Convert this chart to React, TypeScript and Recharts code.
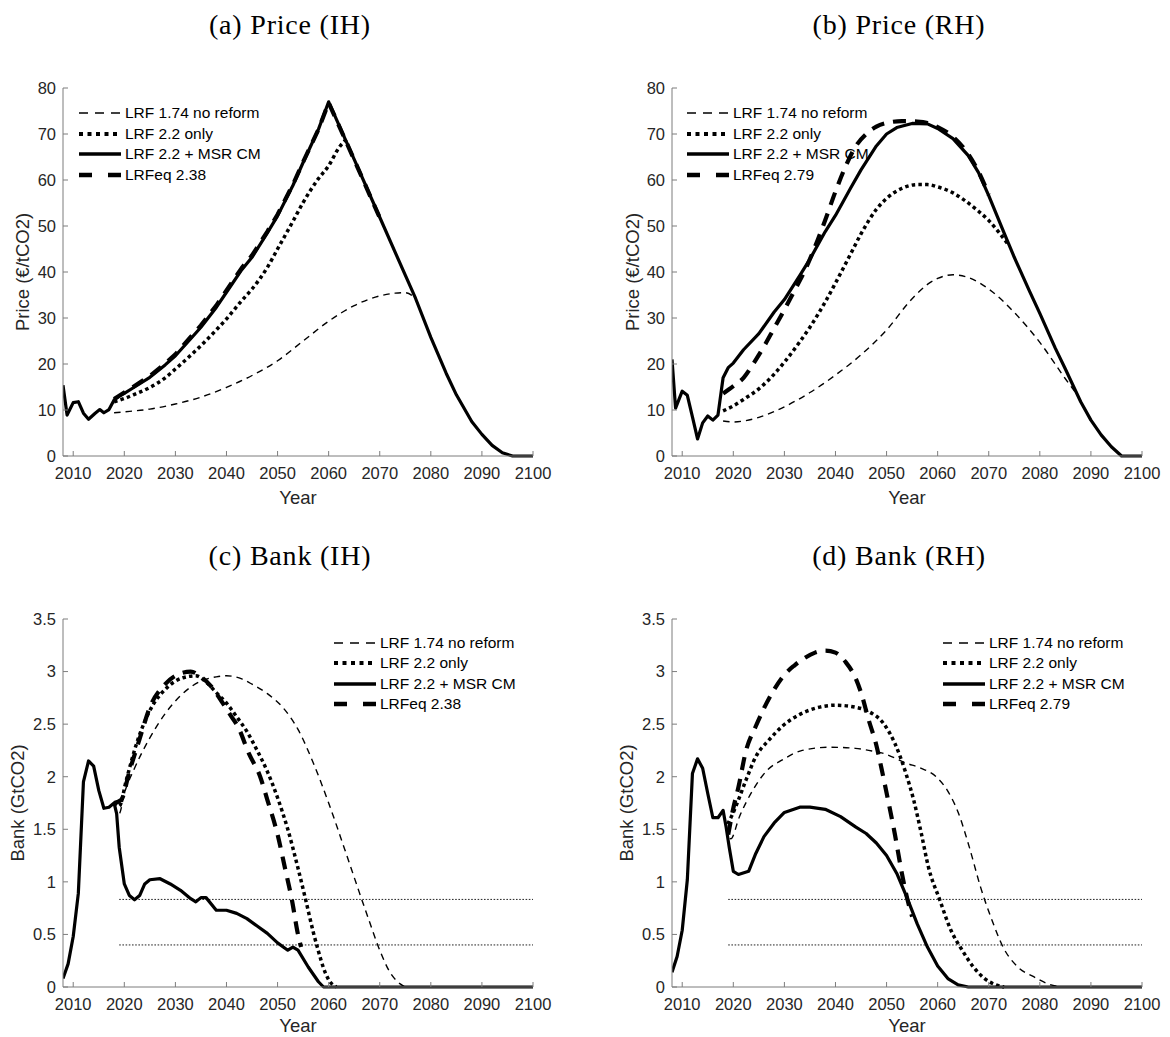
import React from 'react'
import { LineChart, Line, XAxis, YAxis, ReferenceLine, Legend, Label } from 'recharts'

type Pt = [number, number]

const yearTicks = [2010, 2020, 2030, 2040, 2050, 2060, 2070, 2080, 2090, 2100]
const priceTicks = [0, 10, 20, 30, 40, 50, 60, 70, 80]
const bankTicks = [0, 0.5, 1, 1.5, 2, 2.5, 3, 3.5]
const msrThresholds = [0.833, 0.4]
const msrFrom = 2019

const namesIH = ['LRF 1.74 no reform', 'LRF 2.2 only', 'LRF 2.2 + MSR CM', 'LRFeq 2.38']
const namesRH = ['LRF 1.74 no reform', 'LRF 2.2 only', 'LRF 2.2 + MSR CM', 'LRFeq 2.79']

// (a) Price (IH)
const priceIH_noReform: Pt[] = [
  [2018, 9.4], [2020, 9.6], [2025, 10.2], [2030, 11.3], [2035, 12.8], [2040, 14.9], [2045, 17.5],
  [2050, 20.7], [2055, 25.0], [2060, 29.3], [2065, 32.7], [2070, 34.8], [2073, 35.4], [2075, 35.5], [2077, 34.3],
]
const priceIH_only: Pt[] = [
  [2018, 11.8], [2020, 12.5], [2022, 13.4], [2025, 14.9], [2028, 17.0], [2030, 18.9], [2033, 21.9],
  [2035, 24.0], [2038, 27.4], [2040, 29.8], [2043, 33.8], [2045, 36.3], [2048, 41.0], [2050, 45.0],
  [2053, 51.0], [2055, 55.1], [2058, 60.3], [2060, 63.1], [2062, 67.0], [2063.6, 69.0],
]
const priceIH_msr: Pt[] = [
  [2008, 15.4], [2008.8, 8.9], [2010, 11.6], [2011, 11.8], [2012, 9.3], [2013, 8.0], [2014.3, 9.3],
  [2015.2, 10.1], [2016, 9.4], [2017, 10.1], [2018, 12.2], [2019, 13.0], [2020, 13.6], [2022, 15.0],
  [2025, 17.1], [2028, 19.8], [2030, 21.8], [2033, 25.5], [2035, 28.0], [2038, 32.3], [2040, 35.6],
  [2043, 40.5], [2045, 43.2], [2048, 48.5], [2050, 52.2], [2053, 58.8], [2055, 63.8], [2058, 71.0],
  [2060, 77.0], [2065, 64.5], [2070, 51.9], [2075, 39.3], [2077, 34.3], [2080, 25.8], [2083, 18.0],
  [2085, 13.3], [2088, 7.5], [2090, 4.7], [2092, 2.3], [2094, 0.7], [2096, 0], [2100, 0],
]
const priceIH_eq: Pt[] = [
  [2018, 12.4], [2020, 13.8], [2022, 15.2], [2025, 17.4], [2028, 20.1], [2030, 22.1], [2033, 25.9],
  [2035, 28.4], [2038, 32.7], [2040, 36.0], [2043, 40.9], [2045, 43.6], [2048, 48.8], [2050, 52.5],
  [2053, 59.0], [2055, 63.9], [2058, 71.0], [2060, 76.8], [2065, 64.4], [2070, 51.8],
]

// (b) Price (RH)
const priceRH_noReform: Pt[] = [
  [2018, 7.6], [2020, 7.4], [2022, 7.6], [2025, 8.4], [2030, 10.7], [2035, 13.8], [2040, 17.6],
  [2045, 22.0], [2050, 27.4], [2055, 34.2], [2058, 37.3], [2060, 38.6], [2063, 39.4], [2066, 38.8],
  [2070, 36.3], [2075, 31.2], [2080, 24.7], [2085, 16.8], [2087, 13.8],
]
const priceRH_only: Pt[] = [
  [2018, 9.8], [2020, 10.9], [2022, 12.3], [2025, 14.6], [2028, 17.8], [2030, 20.4], [2033, 24.8],
  [2035, 28.0], [2038, 33.5], [2040, 37.6], [2043, 44.0], [2045, 48.3], [2048, 53.6], [2050, 56.0],
  [2053, 58.2], [2056, 59.0], [2058, 59.0], [2060, 58.5], [2063, 57.2], [2065, 55.8], [2068, 53.2],
  [2070, 51.2], [2072, 48.6], [2074, 45.7],
]
const priceRH_msr: Pt[] = [
  [2008, 21.0], [2008.7, 10.4], [2010, 14.1], [2011, 13.2], [2012, 8.5], [2013, 3.7], [2014, 7.2],
  [2015, 8.7], [2016, 7.8], [2017, 8.9], [2018, 17.0], [2019, 19.2], [2020, 20.2], [2022, 23.1],
  [2025, 26.6], [2028, 31.3], [2030, 34.0], [2033, 39.2], [2035, 42.8], [2038, 48.8], [2040, 52.3],
  [2043, 58.3], [2045, 62.2], [2048, 67.4], [2050, 70.0], [2052, 71.4], [2055, 72.3], [2058, 72.2],
  [2060, 71.2], [2063, 69.0], [2066, 65.3], [2068, 61.6], [2070, 56.6], [2073, 48.5], [2075, 43.2],
  [2078, 35.8], [2080, 31.0], [2083, 23.5], [2085, 18.9], [2088, 11.8], [2090, 7.8], [2092, 4.6],
  [2094, 2.0], [2096, 0], [2100, 0],
]
const priceRH_eq: Pt[] = [
  [2018, 13.6], [2020, 15.2], [2022, 17.0], [2024, 20.2], [2026, 23.8], [2028, 27.8], [2030, 31.8],
  [2032, 36.0], [2034, 40.3], [2036, 45.5], [2038, 51.3], [2040, 57.5], [2042, 63.0], [2044, 67.4],
  [2046, 70.0], [2048, 71.6], [2050, 72.4], [2053, 72.8], [2056, 72.7], [2058, 72.4], [2060, 71.5],
  [2063, 69.4], [2066, 65.6], [2068, 61.8], [2070, 56.8],
]

// (c) Bank (IH)
const bankIH_noReform: Pt[] = [
  [2018, 1.74], [2019, 1.65], [2020, 1.84], [2022, 2.08], [2025, 2.37], [2028, 2.6], [2031, 2.77],
  [2035, 2.91], [2038, 2.95], [2040, 2.96], [2043, 2.93], [2045, 2.88], [2048, 2.79], [2051, 2.66],
  [2054, 2.45], [2057, 2.13], [2060, 1.75], [2063, 1.33], [2066, 0.9], [2068, 0.62], [2070, 0.35],
  [2072, 0.14], [2074, 0.03], [2075, 0],
]
const bankIH_only: Pt[] = [
  [2018, 1.75], [2019, 1.72], [2020.4, 1.97], [2022.3, 2.3], [2024.9, 2.62], [2028.2, 2.84],
  [2031.4, 2.94], [2034, 2.96], [2036, 2.9], [2038, 2.8], [2040, 2.7], [2042, 2.57], [2044, 2.43],
  [2046, 2.25], [2048, 2.05], [2050, 1.8], [2052, 1.5], [2054, 1.13], [2055.5, 0.83], [2057, 0.52],
  [2058, 0.34], [2059, 0.18], [2060, 0.07], [2061.5, 0],
]
const bankIH_msr: Pt[] = [
  [2008, 0.08], [2009, 0.22], [2010, 0.48], [2011, 0.89], [2012, 1.95], [2013, 2.15], [2014, 2.1],
  [2015, 1.87], [2016, 1.7], [2017, 1.71], [2018, 1.75], [2018.5, 1.65], [2019, 1.33], [2020, 0.98],
  [2021, 0.87], [2022, 0.83], [2023, 0.87], [2024, 0.98], [2025, 1.02], [2027, 1.03], [2029, 0.98],
  [2031, 0.92], [2033, 0.84], [2034, 0.81], [2035, 0.85], [2036, 0.85], [2038, 0.73], [2040, 0.73],
  [2042, 0.7], [2044, 0.65], [2046, 0.58], [2048, 0.51], [2050, 0.42], [2052, 0.35], [2053, 0.38],
  [2054, 0.35], [2056, 0.19], [2058, 0.05], [2059, 0], [2100, 0],
]
const bankIH_eq: Pt[] = [
  [2018, 1.75], [2019.4, 1.78], [2021, 2.05], [2023, 2.36], [2025, 2.66], [2028, 2.88], [2030, 2.96],
  [2033, 3.0], [2035, 2.95], [2037, 2.86], [2039, 2.72], [2041, 2.57], [2042.2, 2.48], [2044.4, 2.22],
  [2046.6, 2.0], [2048, 1.78], [2050, 1.45], [2051.5, 1.12], [2052.8, 0.83], [2054, 0.5], [2054.6, 0.38],
]

// (d) Bank (RH)
const bankRH_noReform: Pt[] = [
  [2018.6, 1.52], [2019.5, 1.41], [2021.2, 1.62], [2023.8, 1.87], [2026.4, 2.05], [2029.6, 2.16],
  [2033.5, 2.25], [2038.7, 2.28], [2043.9, 2.27], [2046.5, 2.25], [2049.5, 2.22], [2053.8, 2.13],
  [2056.8, 2.08], [2059.7, 2.0], [2061.9, 1.87], [2064.1, 1.65], [2066.2, 1.33], [2068.4, 0.95],
  [2070.6, 0.64], [2072.8, 0.38], [2075.7, 0.19], [2078.7, 0.1], [2081.6, 0.03], [2084, 0],
]
const bankRH_only: Pt[] = [
  [2018.9, 1.55], [2020, 1.66], [2021, 1.78], [2022.5, 1.97], [2024.4, 2.19], [2027, 2.35],
  [2029.6, 2.48], [2032.9, 2.59], [2036, 2.65], [2040, 2.68], [2044, 2.66], [2046.5, 2.62],
  [2049.5, 2.5], [2051.6, 2.32], [2053.8, 2.03], [2055.3, 1.78], [2056.8, 1.46], [2058.2, 1.14],
  [2060.4, 0.83], [2062.6, 0.54], [2064.8, 0.35], [2067, 0.19], [2069.2, 0.08], [2071.4, 0.02], [2073, 0],
]
const bankRH_msr: Pt[] = [
  [2008, 0.14], [2009, 0.29], [2010, 0.54], [2011, 1.02], [2012, 2.03], [2013, 2.17], [2014, 2.08],
  [2015, 1.84], [2016, 1.61], [2017, 1.61], [2018, 1.68], [2018.6, 1.52], [2019.2, 1.33], [2020, 1.1],
  [2021, 1.07], [2023, 1.1], [2024.4, 1.27], [2026, 1.43], [2028, 1.56], [2030, 1.66], [2033, 1.71],
  [2035, 1.71], [2038, 1.69], [2041, 1.62], [2044, 1.52], [2046, 1.46], [2048, 1.37], [2050, 1.25],
  [2052, 1.08], [2054, 0.85], [2056, 0.6], [2058, 0.38], [2060, 0.2], [2062, 0.08], [2064, 0.02],
  [2066, 0], [2100, 0],
]
const bankRH_eq: Pt[] = [
  [2019, 1.45], [2020, 1.7], [2021, 1.9], [2022.5, 2.25], [2024.4, 2.48], [2026, 2.65], [2028, 2.83],
  [2030, 2.97], [2032, 3.06], [2034, 3.13], [2036, 3.18], [2038, 3.2], [2040, 3.18], [2042, 3.09],
  [2044, 2.93], [2045, 2.8], [2046.5, 2.54], [2048, 2.3], [2049, 2.08], [2050.2, 1.8], [2051.6, 1.46],
  [2053, 1.08], [2054, 0.85], [2055, 0.67],
]

const SANS = '"Liberation Sans", Arial, Helvetica, sans-serif'
const SERIF = '"Liberation Serif", "Times New Roman", serif'
const AXIS = '#7d7d7d'
const TEXT = '#262626'

// line look per series, in legend order
const LOOK = [
  { w: 1.4, dash: '6.5 5', legDash: '9 7', legW: 1.5, curve: 'monotone' },
  { w: 3.5, dash: '3.5 3.2', legDash: '4 4.5', legW: 4, curve: 'monotone' },
  { w: 3.2, dash: undefined, legDash: undefined, legW: 3.5, curve: 'linear' },
  { w: 4.2, dash: '13 9', legDash: '13 16', legW: 4.5, curve: 'monotone' },
] as const

const rows = (pts: Pt[]) => pts.map(([year, v]) => ({ year, v }))

function legendContent(names: string[]) {
  return () => (
    <div style={{ fontFamily: SANS, fontSize: 15.5, color: '#000' }}>
      {names.map((n, i) => (
        <div key={n} style={{ display: 'flex', alignItems: 'center', height: 20.5 }}>
          <svg width={42} height={8} style={{ display: 'block' }}>
            <line x1={0} y1={4} x2={42} y2={4} stroke="#000" strokeWidth={LOOK[i].legW} strokeDasharray={LOOK[i].legDash} />
          </svg>
          <span style={{ marginLeft: 4, whiteSpace: 'nowrap' }}>{n}</span>
        </div>
      ))}
    </div>
  )
}

interface PanelProps {
  title: string
  left: number; top: number; width: number; height: number
  plot: { left: number; right: number; top: number; bottom: number }
  yTicks: number[]
  yMax: number
  yLabel: string
  yLabelOffset: number
  xLabelOffset: number
  series: Pt[][]
  names: string[]
  curves?: string[]
  legendAt: { left: number; top: number }
  thresholds?: boolean
}

function Panel(p: PanelProps) {
  const margin = { top: p.plot.top - p.top, right: p.left + p.width - p.plot.right, left: 0, bottom: 0 }
  const yW = p.plot.left - p.left
  const xH = p.top + p.height - p.plot.bottom
  const tick = { fill: TEXT, fontSize: 16.5, fontFamily: SANS }
  const titleCenter = (p.plot.left + p.plot.right) / 2 - 8

  return (
    <>
      <div style={{
        position: 'absolute', left: titleCenter - 150, width: 300, top: p.plot.top - 77.4, textAlign: 'center',
        fontFamily: SERIF, fontSize: 28, lineHeight: '28px', letterSpacing: '0.8px', color: '#000',
      }}>{p.title}</div>
      <div style={{ position: 'absolute', left: p.left, top: p.top }}>
        <LineChart width={p.width} height={p.height} margin={margin}>
          <XAxis
            dataKey="year" type="number" domain={[2008, 2100]} ticks={yearTicks} interval={0}
            allowDataOverflow height={xH} tick={tick} tickSize={-5} tickMargin={16}
            stroke={AXIS} tickLine={{ stroke: AXIS }}
          >
            <Label value="Year" position="insideBottom" offset={p.xLabelOffset}
              style={{ fill: TEXT, fontSize: 18.5, fontFamily: SANS }} />
          </XAxis>
          <YAxis
            type="number" domain={[0, p.yMax]} ticks={p.yTicks} interval={0} width={yW}
            tick={tick} tickSize={-5} tickMargin={12} stroke={AXIS} tickLine={{ stroke: AXIS }}
            tickFormatter={(v: number) => String(v)}
          >
            <Label value={p.yLabel} angle={-90} position="insideLeft" offset={p.yLabelOffset}
              style={{ fill: TEXT, fontSize: 18.5, fontFamily: SANS, textAnchor: 'middle' }} />
          </YAxis>
          {p.thresholds && msrThresholds.map(t => (
            <ReferenceLine key={t} segment={[{ x: msrFrom, y: t }, { x: 2100, y: t }]}
              stroke="#222" strokeWidth={1} strokeDasharray="1.6 1.6" />
          ))}
          {p.series.map((s, i) => (
            <Line
              key={p.names[i]} data={rows(s)} dataKey="v" name={p.names[i]}
              type={(p.curves?.[i] ?? LOOK[i].curve) as any}
              stroke="#000" strokeWidth={LOOK[i].w} strokeDasharray={LOOK[i].dash}
              strokeLinejoin="round" dot={false} activeDot={false} isAnimationActive={false}
            />
          ))}
          <Legend
            layout="vertical" align="center" verticalAlign="middle"
            content={legendContent(p.names)}
            wrapperStyle={{ left: p.legendAt.left, top: p.legendAt.top, width: 'auto', height: 'auto' }}
          />
        </LineChart>
      </div>
    </>
  )
}

export default function App() {
  const topPlot = { top: 88, bottom: 456 }
  const botPlot = { top: 619, bottom: 987 }
  return (
    <div style={{ position: 'absolute', left: 0, top: 0, width: 1170, height: 1037, overflow: 'hidden', background: '#fff' }}>
      <Panel
        title="(a) Price (IH)" left={0} top={50} width={585} height={480}
        plot={{ left: 63, right: 533, ...topPlot }} yTicks={priceTicks} yMax={80}
        yLabel="Price (€/tCO2)" yLabelOffset={22} xLabelOffset={26}
        series={[priceIH_noReform, priceIH_only, priceIH_msr, priceIH_eq]} names={namesIH}
        curves={['monotone', 'monotone', 'linear', 'linear']}
        legendAt={{ left: 79, top: 53 }}
      />
      <Panel
        title="(b) Price (RH)" left={585} top={50} width={585} height={480}
        plot={{ left: 672, right: 1142, ...topPlot }} yTicks={priceTicks} yMax={80}
        yLabel="Price (€/tCO2)" yLabelOffset={47} xLabelOffset={26}
        series={[priceRH_noReform, priceRH_only, priceRH_msr, priceRH_eq]} names={namesRH}
        legendAt={{ left: 102, top: 53 }}
      />
      <Panel
        title="(c) Bank (IH)" left={0} top={570} width={585} height={467}
        plot={{ left: 63, right: 533, ...botPlot }} yTicks={bankTicks} yMax={3.5}
        yLabel="Bank (GtCO2)" yLabelOffset={17.5} xLabelOffset={5}
        series={[bankIH_noReform, bankIH_only, bankIH_msr, bankIH_eq]} names={namesIH}
        legendAt={{ left: 334, top: 62.5 }} thresholds
      />
      <Panel
        title="(d) Bank (RH)" left={585} top={570} width={585} height={467}
        plot={{ left: 672, right: 1142, ...botPlot }} yTicks={bankTicks} yMax={3.5}
        yLabel="Bank (GtCO2)" yLabelOffset={41} xLabelOffset={5}
        series={[bankRH_noReform, bankRH_only, bankRH_msr, bankRH_eq]} names={namesRH}
        legendAt={{ left: 358, top: 62.5 }} thresholds
      />
    </div>
  )
}
